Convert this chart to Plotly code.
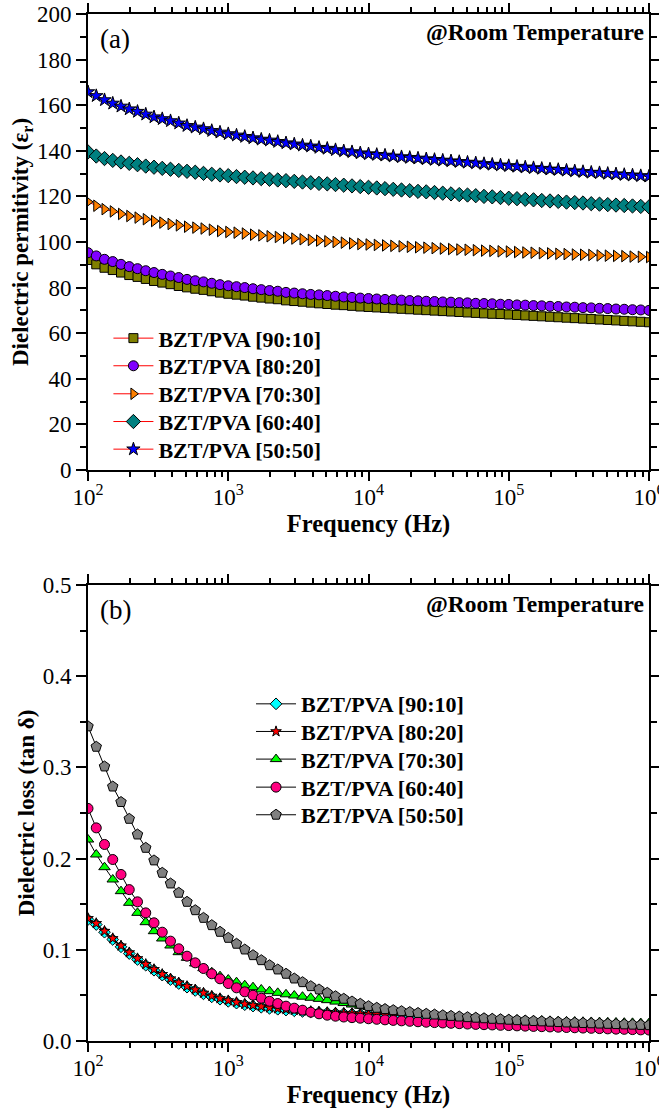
import numpy as np
import plotly.graph_objects as go

# Frequency sweep (LCR meter, 17 points per decade, 100 Hz - 1 MHz)
FREQ_HZ = np.logspace(2, 6, 69)

SERIES = ["BZT/PVA [90:10]", "BZT/PVA [80:20]", "BZT/PVA [70:30]", "BZT/PVA [60:40]", "BZT/PVA [50:50]"]

# ---- (a) Dielectric permittivity ----
eps_90_10 = [92.1, 90.2, 88.7, 87.7, 86.6, 85.5, 84.7, 83.8, 82.9, 82.2, 81.5, 80.7, 80.1, 79.5, 79.0, 78.4, 77.8,
             77.3, 76.9, 76.5, 76.0, 75.6, 75.2, 74.9, 74.4, 74.1, 73.8, 73.4, 73.1, 72.8, 72.5, 72.3, 72.0, 71.7,
             71.5, 71.3, 71.1, 70.9, 70.7, 70.5, 70.3, 70.1, 69.9, 69.7, 69.5, 69.3, 69.1, 68.9, 68.7, 68.5, 68.4,
             68.2, 68.0, 67.8, 67.6, 67.4, 67.2, 67.0, 66.8, 66.6, 66.4, 66.2, 66.0, 65.8, 65.6, 65.4, 65.2, 65.0, 64.8]
eps_80_20 = [95.3, 93.9, 92.4, 91.4, 90.2, 89.2, 88.3, 87.4, 86.6, 85.8, 85.1, 84.4, 83.6, 83.0, 82.5, 81.9, 81.3,
             80.8, 80.4, 80.0, 79.5, 79.1, 78.7, 78.4, 77.9, 77.6, 77.3, 77.0, 76.8, 76.5, 76.2, 75.9, 75.7, 75.4,
             75.2, 75.0, 74.8, 74.7, 74.5, 74.3, 74.2, 74.0, 73.9, 73.7, 73.6, 73.4, 73.3, 73.1, 73.0, 72.9, 72.7,
             72.6, 72.4, 72.3, 72.1, 72.0, 71.8, 71.7, 71.5, 71.4, 71.2, 71.1, 70.9, 70.8, 70.6, 70.5, 70.3, 70.2, 70.0]
eps_70_30 = [117.6, 115.9, 114.4, 113.4, 112.3, 111.4, 110.7, 110.0, 109.2, 108.5, 107.9, 107.3, 106.7, 106.3,
             105.9, 105.4, 104.8, 104.4, 104.1, 103.7, 103.2, 102.9, 102.5, 102.2, 101.8, 101.5, 101.2, 100.9,
             100.6, 100.3, 100.0, 99.7, 99.4, 99.1,
             98.9, 98.7, 98.5, 98.3, 98.1, 97.9, 97.7, 97.5, 97.3, 97.1, 96.9, 96.7, 96.6, 96.4, 96.2, 96.1, 95.9,
             95.8, 95.6, 95.4, 95.3, 95.1, 95.0, 94.8, 94.7, 94.5, 94.4, 94.3, 94.1, 94.0, 93.9, 93.8, 93.6, 93.5, 93.4]
eps_60_40 = [139.5, 137.7, 136.6, 135.8, 135.1, 134.5, 133.9, 133.3, 132.8, 132.3, 131.9, 131.4, 131.0, 130.6,
             130.1, 129.7, 129.4, 129.1, 128.7, 128.4, 128.1, 127.8, 127.5, 127.2, 126.9, 126.6, 126.3, 126.0,
             125.7, 125.5, 125.2, 124.9, 124.6, 124.3,
             124.0, 123.7, 123.4, 123.1, 122.8, 122.5, 122.2, 122.0, 121.7, 121.4, 121.1, 120.8, 120.6, 120.3,
             120.0, 119.8, 119.5, 119.2, 119.0, 118.7, 118.5, 118.2, 118.0, 117.8, 117.5, 117.3, 117.1, 116.8,
             116.6, 116.4, 116.2, 116.0, 115.8, 115.6, 115.4]
eps_50_50 = [165.8, 164.1, 162.3, 160.8, 159.5, 158.3, 157.2, 156.0, 154.8, 154.0, 153.1, 152.1, 151.0, 150.3,
             149.6, 148.8, 148.1, 147.4, 146.8, 146.2, 145.6, 145.0, 144.6, 144.0, 143.4, 142.9, 142.4, 142.0,
             141.4, 141.0, 140.4, 139.9, 139.5, 139.0,
             138.6, 138.3, 138.0, 137.6, 137.3, 137.0, 136.7, 136.4, 136.1, 135.8, 135.5, 135.2, 134.9, 134.6,
             134.3, 134.0, 133.7, 133.4, 133.1, 132.8, 132.5, 132.2, 131.9, 131.7, 131.4, 131.1, 130.8, 130.5,
             130.3, 130.0, 129.8, 129.5, 129.3, 129.0, 128.8]

# ---- (b) Dielectric loss ----
tan_90_10 = [0.1332, 0.1277, 0.1193, 0.1113, 0.1033, 0.0959, 0.0894, 0.0831, 0.0776, 0.0722, 0.0674, 0.0630,
             0.0590, 0.0554, 0.0517, 0.0484, 0.0458, 0.0435, 0.0415, 0.0398, 0.0383, 0.0370, 0.0358, 0.0348,
             0.0339, 0.0331, 0.0324, 0.0318, 0.0313, 0.0308, 0.0304, 0.0300, 0.0296, 0.0292, 0.0288, 0.0284,
             0.0280, 0.0276, 0.0272, 0.0268, 0.0264, 0.0260, 0.0256, 0.0252, 0.0248, 0.0244, 0.0240, 0.0236,
             0.0232, 0.0228, 0.0224, 0.0220, 0.0216, 0.0212, 0.0208, 0.0204, 0.0200, 0.0196, 0.0192, 0.0188,
             0.0184, 0.0180, 0.0177, 0.0174, 0.0171, 0.0168, 0.0165, 0.0162, 0.0159]
tan_80_20 = [0.1345, 0.1290, 0.1205, 0.1125, 0.1045, 0.0970, 0.0905, 0.0842, 0.0786, 0.0732, 0.0684, 0.0640,
             0.0600, 0.0563, 0.0527, 0.0494, 0.0467, 0.0444, 0.0424, 0.0406, 0.0391, 0.0378, 0.0366, 0.0356,
             0.0347, 0.0339, 0.0332, 0.0326, 0.0320, 0.0315, 0.0310, 0.0306, 0.0302, 0.0298, 0.0294, 0.0290,
             0.0286, 0.0282, 0.0278, 0.0274, 0.0270, 0.0266, 0.0262, 0.0258, 0.0254, 0.0250, 0.0246, 0.0242,
             0.0238, 0.0234, 0.0230, 0.0226, 0.0222, 0.0218, 0.0214, 0.0210, 0.0206, 0.0202, 0.0198, 0.0194,
             0.0190, 0.0187, 0.0184, 0.0181, 0.0178, 0.0175, 0.0172, 0.0169, 0.0166]
tan_70_30 = [0.2209, 0.2045, 0.1906, 0.1771, 0.1643, 0.1515, 0.1405, 0.1303, 0.1204, 0.1124, 0.1047, 0.0974,
             0.0912, 0.0850, 0.0798, 0.0754, 0.0711, 0.0674, 0.0645, 0.0612, 0.0590, 0.0565, 0.0546, 0.0528,
             0.0512, 0.0499, 0.0486, 0.0474, 0.0462, 0.0448, 0.0432, 0.0416, 0.0400, 0.0386, 0.0372, 0.0358,
             0.0345, 0.0333, 0.0322, 0.0312, 0.0303, 0.0295, 0.0287, 0.0280, 0.0273, 0.0267, 0.0261, 0.0256,
             0.0251, 0.0246, 0.0242, 0.0238, 0.0234, 0.0230, 0.0227, 0.0224, 0.0221, 0.0218, 0.0215, 0.0213,
             0.0211, 0.0209, 0.0207, 0.0205, 0.0203, 0.0201, 0.0199, 0.0197, 0.0196]
tan_60_40 = [0.2550, 0.2337, 0.2155, 0.1990, 0.1826, 0.1660, 0.1526, 0.1405, 0.1296, 0.1193, 0.1095, 0.1011,
             0.0930, 0.0857, 0.0795, 0.0737, 0.0682, 0.0630, 0.0583, 0.0539, 0.0502, 0.0469, 0.0436, 0.0411,
             0.0382, 0.0360, 0.0338, 0.0316, 0.0298, 0.0283, 0.0272, 0.0263, 0.0256, 0.0250, 0.0244, 0.0238,
             0.0232, 0.0226, 0.0221, 0.0216, 0.0211, 0.0206, 0.0202, 0.0198, 0.0194, 0.0190, 0.0186, 0.0182,
             0.0179, 0.0176, 0.0172, 0.0169, 0.0166, 0.0163, 0.0160, 0.0157, 0.0154, 0.0151, 0.0148, 0.0145,
             0.0142, 0.0139, 0.0136, 0.0133, 0.0130, 0.0128, 0.0125, 0.0122, 0.0120]
tan_50_50 = [0.3450, 0.3226, 0.3010, 0.2790, 0.2620, 0.2436, 0.2264, 0.2118, 0.1980, 0.1844, 0.1727, 0.1625,
             0.1526, 0.1434, 0.1350, 0.1270, 0.1197, 0.1131, 0.1066, 0.1003, 0.0941, 0.0886, 0.0831, 0.0784,
             0.0737, 0.0685, 0.0645, 0.0601, 0.0565, 0.0528, 0.0491, 0.0463, 0.0433, 0.0408, 0.0382, 0.0364,
             0.0350, 0.0338, 0.0327, 0.0317, 0.0307, 0.0298, 0.0290, 0.0282, 0.0275, 0.0268, 0.0261, 0.0255,
             0.0249, 0.0243, 0.0238, 0.0233, 0.0228, 0.0223, 0.0219, 0.0215, 0.0211, 0.0207, 0.0203, 0.0200,
             0.0197, 0.0194, 0.0191, 0.0188, 0.0185, 0.0182, 0.0179, 0.0176, 0.0173]

X_TICKVALS = [1e2, 1e3, 1e4, 1e5, 1e6]
X_TICKTEXT = ["10<sup>2</sup>", "10<sup>3</sup>", "10<sup>4</sup>", "10<sup>5</sup>", "10<sup>6</sup>"]
X_MINOR = [m * 10 ** e for e in range(2, 6) for m in range(2, 10)]

EPS = [eps_90_10, eps_80_20, eps_70_30, eps_60_40, eps_50_50]
TAN = [tan_90_10, tan_80_20, tan_70_30, tan_60_40, tan_50_50]

A_COLORS = ["#808000", "#8000FF", "#FF8000", "#008080", "#0000FF"]
A_SYMBOLS = ["square", "circle", "triangle-right", "diamond", "star"]
A_SIZES = [9, 10, 10, 11, 10]
B_COLORS = ["#00FFFF", "#FF0000", "#00FF00", "#FF0080", "#808080"]
B_SYMBOLS = ["diamond", "star", "triangle-up", "circle", "pentagon"]
B_SIZES = [9, 8, 10, 10, 11]

# legend entry centres (paper y) — one legend per entry to reproduce the tight row spacing
A_LEG_Y = [0.6842, 0.6573, 0.6300, 0.6030, 0.5761]
B_LEG_Y = [0.3281, 0.3012, 0.2743, 0.2470, 0.2201]
A_LEG_X = 0.0364
B_LEG_X = 0.2906

for arr in EPS + TAN:
    assert len(arr) == len(FREQ_HZ), len(arr)

FONT = "Liberation Serif"
LEG_FONT = dict(family=FONT, size=22, color="black")
fig = go.Figure()
legends = {"legend": dict(visible=False)}

for i, (name, ys, c, s, sz) in enumerate(zip(SERIES, EPS, A_COLORS, A_SYMBOLS, A_SIZES)):
    key = f"legend{i + 2}"
    legends[key] = dict(x=A_LEG_X, y=A_LEG_Y[i], xanchor="left", yanchor="middle", xref="paper", yref="paper",
                        bgcolor="rgba(0,0,0,0)", font=LEG_FONT, itemwidth=40, visible=True)
    fig.add_trace(go.Scatter(
        x=FREQ_HZ, y=ys, mode="lines+markers", name="<b>" + name + "</b>", showlegend=True,
        line=dict(color="#FF0000", width=1),
        marker=dict(symbol=s, size=sz, color=c, line=dict(color="black", width=1)),
        xaxis="x", yaxis="y", legend=key))

for i, (name, ys, c, s, sz) in enumerate(zip(SERIES, TAN, B_COLORS, B_SYMBOLS, B_SIZES)):
    key = f"legend{i + 7}"
    legends[key] = dict(x=B_LEG_X, y=B_LEG_Y[i], xanchor="left", yanchor="middle", xref="paper", yref="paper",
                        bgcolor="rgba(0,0,0,0)", font=LEG_FONT, itemwidth=40, visible=True)
    fig.add_trace(go.Scatter(
        x=FREQ_HZ, y=ys, mode="lines+markers", name="<b>" + name + "</b>", showlegend=True,
        line=dict(color="black", width=1),
        marker=dict(symbol=s, size=sz, color=c, line=dict(color="black", width=1)),
        xaxis="x2", yaxis="y2", legend=key))

def xaxis(anchor):
    return dict(type="log", range=[2, 6], anchor=anchor, automargin=False,
                tickvals=X_TICKVALS, ticktext=X_TICKTEXT, ticklabeloverflow="allow",
                ticks="outside", ticklen=9, tickwidth=2, tickcolor="black",
                minor=dict(tickvals=X_MINOR, ticks="outside", ticklen=5, tickwidth=1.5, tickcolor="black",
                           showgrid=False),
                showline=True, linewidth=2, linecolor="black", mirror="ticks",
                showgrid=False, zeroline=False, ticklabelstandoff=-4,
                tickfont=dict(family=FONT, size=23, color="black"),
                title=dict(text="<b>Frequency (Hz)</b>", font=dict(family=FONT, size=24.5, color="black"),
                           standoff=2))

def yaxis(anchor, domain, rng, dtick, minor_dtick, title, fmt):
    return dict(domain=domain, range=rng, anchor=anchor, dtick=dtick, tick0=0, automargin=False,
                ticklabeloverflow="allow",
                ticks="outside", ticklen=10, tickwidth=2, tickcolor="black",
                minor=dict(ticks="outside", ticklen=6, tickwidth=1.5, tickcolor="black",
                           dtick=minor_dtick, tick0=0, showgrid=False),
                showline=True, linewidth=2, linecolor="black", mirror="ticks",
                showgrid=False, zeroline=False, tickformat=fmt,
                tickfont=dict(family=FONT, size=23, color="black"),
                title=dict(text=title, font=dict(family=FONT, size=23, color="black"), standoff=2))

fig.update_layout(
    width=659, height=1110, showlegend=True,
    margin=dict(l=88, r=10, t=14, b=69),
    paper_bgcolor="white", plot_bgcolor="white",
    font=dict(family=FONT, color="black"),
    xaxis=xaxis("y"),
    yaxis=yaxis("x", [0.556, 1.0], [0, 200], 20, 10, "<b>Dielectric permitivity (ε<sub>r</sub>)</b>", "d"),
    xaxis2=xaxis("y2"),
    yaxis2=yaxis("x2", [0.0, 0.444], [0, 0.5], 0.1, 0.05, "<b>Dielectric loss (tan δ)</b>", ".1f"),
    annotations=[
        dict(text="(a)", x=0.018, y=0.945, xref="x domain", yref="y domain", xanchor="left", yanchor="middle",
             showarrow=False, font=dict(family=FONT, size=27, color="black")),
        dict(text="<b>@Room Temperature</b>", x=0.995, y=0.959, xref="x domain", yref="y domain",
             xanchor="right", yanchor="middle", showarrow=False, font=dict(family=FONT, size=23.5, color="black")),
        dict(text="(b)", x=0.018, y=0.945, xref="x2 domain", yref="y2 domain", xanchor="left", yanchor="middle",
             showarrow=False, font=dict(family=FONT, size=27, color="black")),
        dict(text="<b>@Room Temperature</b>", x=0.995, y=0.957, xref="x2 domain", yref="y2 domain",
             xanchor="right", yanchor="middle", showarrow=False, font=dict(family=FONT, size=23.5, color="black")),
    ],
    **legends,
)

# remove the default 8px page margin so the 659x1110 figure fills the window exactly
fig.write_html("out.html", config={"displayModeBar": False},
               post_script="document.body.style.margin='0px';")
